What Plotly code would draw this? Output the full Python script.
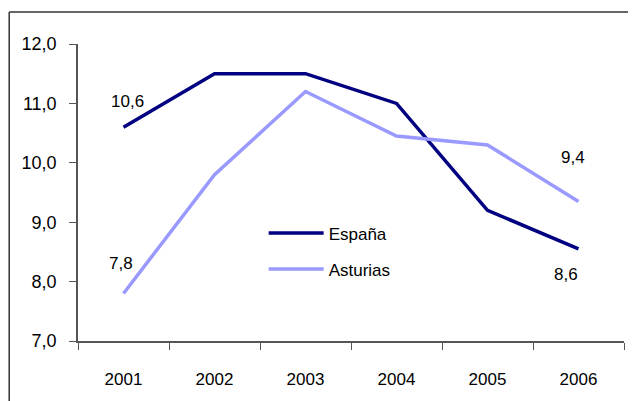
import plotly.graph_objects as go

years = ["2001", "2002", "2003", "2004", "2005", "2006"]
espana = [10.6, 11.5, 11.5, 11.0, 9.2, 8.55]
asturias = [7.8, 9.8, 11.2, 10.45, 10.3, 9.35]
y_ticks = [7, 8, 9, 10, 11, 12]

# labelled points: (series, index, shown value, x offset, y offset)
labels = [
    (espana, 0, 10.6, 4, 26),
    (asturias, 0, 7.8, -3, 30),
    (asturias, 5, 9.4, -6, 44),
    (espana, 5, 8.6, -13, -26),
]

font = "Liberation Sans, Arial, sans-serif"

fig = go.Figure()
fig.add_trace(go.Scatter(x=years, y=espana, mode="lines", name="España", legendgroup="e",
                         line=dict(color="#000080", width=3.5)))
fig.add_trace(go.Scatter(x=years, y=asturias, mode="lines", name="Asturias", legendgroup="a",
                         line=dict(color="#9999FF", width=3.5)))

for series, i, val, dx, dy in labels:
    # category index for x, a numeric-looking string would be read as a position
    fig.add_annotation(x=i, y=series[i], text=f"{val:.1f}".replace(".", ","),
                       showarrow=False, xshift=dx, yshift=dy,
                       font=dict(size=17, color="#000000", family=font))

# outer frame of the original chart (plot area is 546 x 297 px)
fig.add_shape(type="line", xref="paper", yref="paper", x0=-0.126, x1=1.1, y0=1.108, y1=1.108,
              line=dict(color="#333333", width=1.5))
fig.add_shape(type="line", xref="paper", yref="paper", x0=-0.126, x1=-0.126, y0=-0.3, y1=1.108,
              line=dict(color="#333333", width=1.5))

# page body has an 8px margin, so the figure is sized/offset for it
fig.update_layout(
    width=628, height=393,
    margin=dict(l=70, r=12, t=36, b=60, autoexpand=False),
    paper_bgcolor="white", plot_bgcolor="white",
    separators=",.",
    font=dict(family=font, size=17, color="#000000"),
    legend=dict(x=0.34, y=0.423, xanchor="left", yanchor="top", itemwidth=55,
                bgcolor="rgba(0,0,0,0)", font=dict(size=17), tracegroupgap=11),
    showlegend=True,
)
fig.update_xaxes(type="category", range=[-0.5, 5.5], showgrid=False, automargin=False,
                 showline=True, linecolor="#555555", linewidth=1.5,
                 ticks="outside", tickson="boundaries", ticklen=7, tickcolor="#555555",
                 tickfont=dict(size=17), ticklabelstandoff=22)
fig.update_yaxes(range=[7, 12], tickvals=y_ticks, tickformat=".1f", showgrid=False, automargin=False,
                 showline=True, linecolor="#555555", linewidth=1.5,
                 ticks="outside", ticklen=7, tickcolor="#555555",
                 tickfont=dict(size=18), ticklabelstandoff=9, zeroline=False)

fig.write_html("out.html")
